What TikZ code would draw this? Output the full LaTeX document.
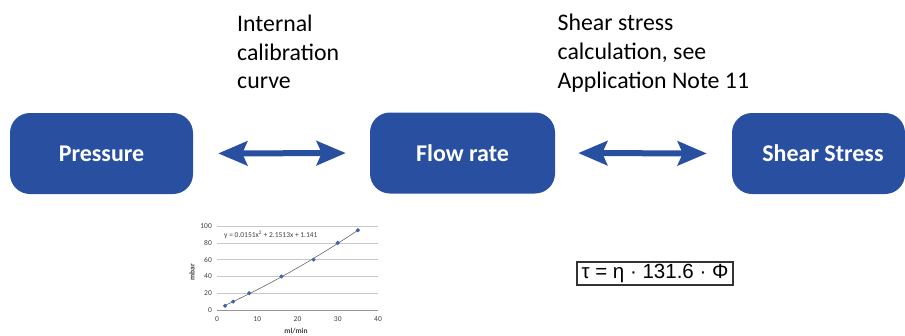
\documentclass[tikz,border=0pt]{standalone}
\usepackage{fontspec}
\setmainfont{Carlito}
\newfontfamily\arialf{Liberation Sans}
\usetikzlibrary{arrows.meta}
\definecolor{boxblue}{RGB}{40,79,160}
\definecolor{gridgray}{RGB}{200,200,200}
\definecolor{axgray}{RGB}{150,150,150}
\definecolor{ptblue}{RGB}{60,100,180}
\tikzset{
  bluebox/.style={fill=boxblue, rounded corners=20pt, minimum height=81pt, inner sep=0pt,
    text=white, font=\fontsize{24}{28}\selectfont\bfseries},
  biarrow/.style={draw=boxblue, line width=6pt,
    {Stealth[length=29pt,width=24pt,inset=5pt]}-{Stealth[length=29pt,width=24pt,inset=5pt]}},
  toptext/.style={anchor=north west, inner sep=0pt, align=left, font=\fontsize{23.8}{28.8}\selectfont},
  ticklab/.style={inner sep=0pt, font=\fontsize{7.5}{8}\selectfont, text=black!75},
}
\begin{document}
\begin{tikzpicture}[x=1pt,y=-1pt]
\useasboundingbox (0,0) rectangle (905,335);
% boxes
\node[bluebox, minimum width=183pt] (pres) at (101.5,153.5) {Pressure};
\node[bluebox, minimum width=185pt] (flow) at (462.5,153) {Flow rate};
\node[bluebox, minimum width=173pt] (shear) at (818.5,153.5) {\hspace*{9pt}Shear Stress};
% arrows
\draw[biarrow, shorten <=25pt, shorten >=24pt] (pres.east) -- (flow.west);
\draw[biarrow, shorten <=23pt, shorten >=25pt] (flow.east) -- (shear.west);
% top texts
\node[toptext] (t1) at (237,14.5) {Internal\\calibration\\curve};
\node[toptext] (t2) at (557.5,14) {Shear stress\\calculation, see\\Application Note 11};
% chart
\foreach \v in {20,40,60,80,100}{
  \draw[gridgray, line width=0.6pt] (217,{310-0.84*\v}) -- (378,{310-0.84*\v});
}
\draw[axgray, line width=0.7pt] (217,310) -- (378,310);
\foreach \v in {0,20,40,60,80,100}{
  \node[ticklab, anchor=east] at (212,{310-0.84*\v}) {\v};
}
\foreach \v in {0,10,20,30,40}{
  \node[ticklab, anchor=north] at ({217+4.025*\v},316) {\v};
}
\node[ticklab, rotate=90, font=\fontsize{7.5}{8}\selectfont\bfseries] (ylab) at (192,272) {mbar};
\node[ticklab, font=\fontsize{7.5}{8}\selectfont\bfseries] (xlab) at (296,331) {ml/min};
\draw[black!60, line width=0.6pt, domain=2:35, samples=40, smooth]
  plot ({217+4.025*\x},{310-0.84*(0.0151*\x*\x+2.1513*\x+1.141)});
\foreach \a/\b in {2/5,4/10,8/20,16/40,24/60,30/80,35/95}{
  \fill[ptblue] ({217+4.025*\a},{310-0.84*\b}) ++(0,-2.2) -- ++(2.2,2.2) -- ++(-2.2,2.2) -- ++(-2.2,-2.2) -- cycle;
}
\node[ticklab, anchor=west] (eq) at (224,235) {y = 0.0151x\textsuperscript{2} + 2.1513x + 1.141};
% formula
\node[draw=black!80, line width=1.3pt, minimum width=156pt, minimum height=23pt, inner sep=0pt,
  font=\arialf\fontsize{20.5}{22}\selectfont] (formula) at (655,273.5) {τ = η · 131.6 · Φ};
\end{tikzpicture}
\end{document}
